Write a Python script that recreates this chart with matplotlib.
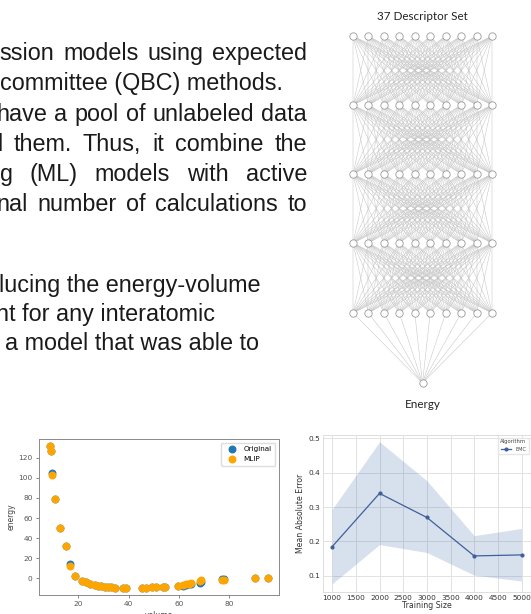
import numpy as np
import matplotlib.pyplot as plt

# --- data -------------------------------------------------------------
volume = [8.8, 9.2, 9.7, 10.9, 12.9, 15.0, 16.6, 18.9, 21.6, 23.0, 24.9, 26.5,
          27.8, 29.2, 30.6, 31.7, 33.2, 34.8, 37.8, 39.1, 45.2, 46.8, 49.3,
          50.8, 53.7, 54.6, 59.6, 61.6, 62.9, 64.0, 64.9, 68.3, 68.9, 77.2,
          77.9, 90.4, 95.4]
energy_original = [131.6, 127.0, 104.5, 78.7, 50.0, 31.7, 14.5, 2.0, -2.3, -4.0,
                   -5.6, -6.6, -7.3, -7.9, -8.6, -8.9, -8.9, -9.3, -9.6, -9.6,
                   -9.6, -9.6, -8.9, -8.6, -8.6, -8.6, -7.8, -7.3, -6.8, -6.1,
                   -5.6, -4.8, -3.6, -0.6, -1.2, -0.2, -0.2]
energy_mlip = [131.6, 127.0, 103.0, 78.7, 50.0, 31.7, 12.3, 2.0, -2.3, -4.0,
               -5.6, -6.6, -7.3, -7.9, -8.6, -8.9, -8.9, -9.3, -9.6, -9.6,
               -9.6, -9.6, -8.9, -8.6, -8.6, -8.6, -7.6, -6.6, -6.0, -5.3,
               -4.6, -2.6, -2.0, -1.4, -1.6, -0.2, -0.2]

train_size = [1000, 2000, 3000, 4000, 5000]
mae_emc = [0.185, 0.340, 0.270, 0.158, 0.161]
mae_upper = [0.294, 0.490, 0.377, 0.217, 0.238]
mae_lower = [0.077, 0.191, 0.168, 0.102, 0.085]

layer_sizes = [10, 10, 10, 10, 10, 1]
nn_input_label = "37 Descriptor Set"
nn_output_label = "Energy"

text_lines = [
    ("ssion models using expected", True),
    ("committee (QBC) methods.", False),
    ("have a pool of unlabeled data", True),
    ("l them. Thus, it combine the", True),
    ("g (ML) models with active", True),
    ("nal number of calculations to", True),
    ("lucing the energy-volume", False),
    ("nt for any interatomic", False),
    ("a model that was able to", False),
]
line_x0 = [-0.5, 0, -4, -3, 0, -4, -1, -4, 5]
line_base = [60, 90, 121, 151, 181, 211, 292, 321, 350]

# --- figure -----------------------------------------------------------
fig = plt.figure(figsize=(5.31, 6.14), dpi=100)
bg = fig.add_axes([0, 0, 1, 1])
bg.set_xlim(0, 531)
bg.set_ylim(614, 0)
bg.axis('off')

renderer = fig.canvas.get_renderer()
font = dict(family='Liberation Sans', fontsize=16.8, color='#1a1a1a', va='baseline')
right_edge = 307
for (line, justify), x0, yb in zip(text_lines, line_x0, line_base):
    if not justify:
        bg.text(x0, yb, line, **font)
        continue
    words = line.split(' ')
    items = [bg.text(0, yb, w, **font) for w in words]
    widths = [t.get_window_extent(renderer).width for t in items]
    gap = (right_edge - x0 - sum(widths)) / (len(words) - 1)
    x = x0
    for t, w in zip(items, widths):
        t.set_x(x)
        x += w + gap

# neural network sketch
row_y = [36, 105, 174, 243, 313, 383]
nodes = []
for n, yy in zip(layer_sizes, row_y):
    xs = np.linspace(353, 492, n) if n > 1 else np.array([422.5])
    nodes.append((xs, np.full(n, yy)))
for (xa, ya), (xb, yb) in zip(nodes[:-1], nodes[1:]):
    for i in range(len(xa)):
        for j in range(len(xb)):
            bg.plot([xa[i], xb[j]], [ya[i], yb[j]], color='#c2c2c2', lw=0.35, zorder=1)
for xs, ys in nodes:
    bg.scatter(xs, ys, s=28, facecolor='white', edgecolor='#9a9a9a', lw=0.6, zorder=3)
bg.text(422.5, 16, nn_input_label, family='Lato', fontsize=8.4, ha='center', va='center', color='#222222')
bg.text(422.5, 404, nn_output_label, family='Lato', fontsize=8.4, ha='center', va='center', color='#222222')

# --- energy-volume scatter --------------------------------------------
ax1 = fig.add_axes([39 / 531, 1 - 595 / 614, 240 / 531, 156 / 614])
ax1.scatter(volume, energy_original, s=22, color='#1f77b4', label='Original', zorder=2)
ax1.scatter(volume, energy_mlip, s=22, color='orange', label='MLIP', zorder=3)
ax1.set_yticks([0, 20, 40, 60, 80, 100, 120])
ax1.set_xticks([20, 40, 60, 80])
ax1.tick_params(labelsize=5.3, length=2, width=0.5, colors='#555555', pad=2.5)
for s in ax1.spines.values():
    s.set_color('#8a8a8a')
    s.set_linewidth(0.7)
ax1.set_xlabel('volume', fontsize=5.5, color='#444444', labelpad=2.5)
ax1.set_ylabel('energy', fontsize=5.5, color='#444444', labelpad=2)
ax1.legend(loc='upper right', fontsize=5.2, handletextpad=0.6, borderpad=0.5,
           framealpha=1, edgecolor='#dddddd', fancybox=True)

# --- learning curve -----------------------------------------------------
ax2 = fig.add_axes([322.7 / 531, 1 - 592 / 614, 208.3 / 531, 157 / 614])
line_col = '#40609a'
ax2.fill_between(train_size, mae_lower, mae_upper, color='#4c72b0', alpha=0.22, lw=0)
ax2.plot(train_size, mae_emc, color=line_col, lw=0.9, marker='o', ms=2, label='EMC')
ax2.set_xlim(800, 5200)
ax2.set_ylim(0.053, 0.51)
ax2.set_xticks(np.arange(1000, 5001, 500))
ax2.set_yticks([0.1, 0.2, 0.3, 0.4, 0.5])
ax2.set_yticklabels(['0.1', '0.2', '0.3', '0.4', '0.5'])
ax2.grid(True, color='#e2e2e2', lw=0.7)
ax2.set_axisbelow(True)
ax2.tick_params(labelsize=5.3, length=0, colors='#333333', pad=2)
for s in ax2.spines.values():
    s.set_color('#dddddd')
    s.set_linewidth(0.7)
ax2.set_xlabel('Training Size', fontsize=5.6, color='#333333', labelpad=0.5)
ax2.set_ylabel('Mean Absolute Error', fontsize=5.6, color='#333333', labelpad=2)
leg = ax2.legend(title='Algorithm', loc='upper right', fontsize=3.6, title_fontsize=3.8,
                 framealpha=1, edgecolor='#e6e6e6', handlelength=2, borderpad=0.4)
for t in leg.get_texts():
    t.set_color('#444444')
leg.get_title().set_color('#444444')

fig.savefig('out.png', dpi=100)
